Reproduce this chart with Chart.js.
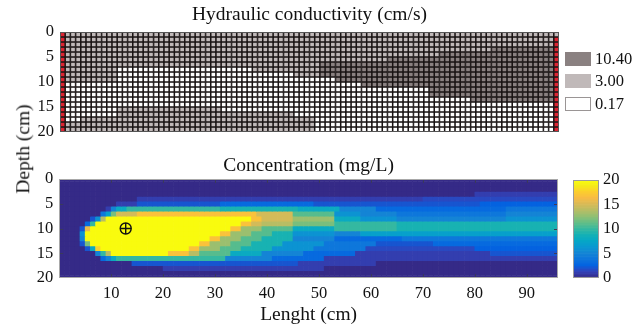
<!DOCTYPE html>
<html><head><meta charset="utf-8">
<script src="https://cdn.jsdelivr.net/npm/chart.js@4.4.1/dist/chart.umd.min.js"></script>
<style>
html,body{margin:0;padding:0;background:#fff;width:641px;height:328px;overflow:hidden}
canvas{position:absolute;display:block}
#ylab{position:absolute;left:23px;top:149px;transform:translate(-50%,-50%) rotate(-90deg);font-family:'Liberation Serif','Times New Roman',serif;font-size:19.5px;color:#111;white-space:nowrap;line-height:1}
</style></head><body>
<canvas id="kChart" style="left:0;top:0;width:641px;height:150px" width="641" height="150"></canvas>
<canvas id="cChart" style="left:0;top:150px;width:641px;height:178px" width="641" height="178"></canvas>
<canvas id="cbChart" style="left:560px;top:150px;width:81px;height:178px" width="81" height="178"></canvas>
<div id="ylab">Depth (cm)</div>
<script>
// ---------------- data ----------------
const lengthMax = 96;           // cm, number of 1 cm columns
const depthMax = 20;            // cm
const xTickValues = [10, 20, 30, 40, 50, 60, 70, 80, 90];
const yTickValues = [0, 5, 10, 15, 20];
const cbTickValues = [0, 5, 10, 15, 20];

// hydraulic conductivity classes (code -> value, cm/s)
const kClassValues = [0.17, 3.00, 10.40];
const kLegendLabels = ['10.40', '3.00', '0.17'];
const kLegendCodes = [2, 1, 0];
// rows of the conductivity grid (depth 0..19), run-length: code*count
const kRows = [
  "1*96",
  "1*96",
  "1*96",
  "1*83 2*13",
  "1*73 2*23",
  "1*63 2*33",
  "1*50 2*46",
  "1*11 0*26 1*13 2*46",
  "1*11 0*34 1*5 2*46",
  "1*11 0*42 2*43",
  "0*58 2*38",
  "0*71 2*25",
  "0*71 2*25",
  "0*79 2*17",
  "0*96",
  "0*11 1*20 0*65",
  "0*11 1*34 0*51",
  "0*4 1*45 0*47",
  "1*49 0*47",
  "1*49 0*47"
];
// boundary (red) cells: [column, firstRow, lastRow]
const boundaryCells = [[0, 0, 19], [95, 1, 19]];

// concentration (mg/L), rows centred on depth 0..20, run-length: value*count
const concRows = [
  "0*96",
  "0*96",
  "0*96",
  "0*80 1*16",
  "0*15 1*55 1.5*26",
  "0*11 1*4 2*16 3*18 2*32 2.5*15",
  "0*9 1 5 8*2 10*18 9*15 8*8 5*7 3*25 4*10",
  "0*8 4 7 12 15*4 17*23 15*7 11*8 6*5 5*7 4*21 5*10",
  "0*6 2 6 14 20*28 17*2 15*6 13*8 8*5 6*7 5*21 6*10",
  "0*5 3 10 20*28 17*2 15*2 14*6 12*8 10*12 9*31",
  "0*4 2 16 20*27 17*2 13*4 11*6 8*8 10*12 9*31",
  "0*4 6 20*26 17*2 13*4 11*4 9*4 6*8 5*5 7*38",
  "0*4 5 20*24 17*2 13*4 11*4 9*6 5*8 3*13 4*30",
  "0*4 2 12 20*21 17*2 13*4 11*4 9*6 6*8 4*10 2*11 3*24",
  "0*5 2 8 18 20*17 17*2 13*4 11*4 9*6 6*8 4*10 1.5*21 2.5*16",
  "0*7 5 10 14 20*11 17*4 14*2 11*6 8*6 5*8 3*10 1*26 2*13",
  "0*8 3 5 8 10*21 5*9 3*10 1*45",
  "0*14 2*32 1*15 0*35",
  "0*20 1*31 0*45",
  "0*96",
  "0*96"
];
const concMin = 0, concMax = 20;
const sourcePoint = [{x: 12.8, y: 10}];

// ---------------- styling helpers ----------------
const SERIF = "'Liberation Serif','Times New Roman',serif";
Chart.defaults.font.family = SERIF;
Chart.defaults.color = '#111';

const kColors = ['#ffffff', '#c0b9b9', '#8a8181'];
const boundaryColor = '#dc2432';
const gridLineColor = '#1a1414';

const parulaAnchors = [
  [53,42,135],[50,67,186],[3,99,225],[13,117,220],[20,133,212],[9,152,209],
  [6,167,198],[21,177,180],[56,185,158],[101,190,134],[146,191,115],[183,189,100],
  [217,186,86],[248,187,68],[252,206,46],[245,235,24],[249,251,14]
];
const parulaPos = [0,4,8,12,16,20,24,28,32,36,40,44,48,52,56,60,63].map(v => v / 63);
function parula(t) {
  t = Math.max(0, Math.min(1, t));
  let i = 0;
  while (i < parulaPos.length - 2 && t > parulaPos[i + 1]) i++;
  const f = (t - parulaPos[i]) / (parulaPos[i + 1] - parulaPos[i]);
  const a = parulaAnchors[i], b = parulaAnchors[i + 1];
  const c = a.map((v, k) => Math.round(v + (b[k] - v) * f));
  return `rgb(${c[0]},${c[1]},${c[2]})`;
}
function expand(row) {
  const out = [];
  row.trim().split(/\s+/).forEach(tok => {
    const [v, n] = tok.split('*');
    const cnt = n === undefined ? 1 : +n;
    for (let i = 0; i < cnt; i++) out.push(+v);
  });
  return out;
}

// ---------------- plugins ----------------
const framePlugin = {
  id: 'frame',
  afterDatasetsDraw(chart, args, opts) {
    const {ctx, chartArea: a, scales} = chart;
    ctx.save();
    if (opts.innerTicks) {
      ctx.strokeStyle = opts.tickColor || '#444';
      ctx.lineWidth = 1;
      ctx.beginPath();
      (opts.xTicks || []).forEach(v => {
        const x = Math.round(scales.x.getPixelForValue(v)) + 0.5;
        ctx.moveTo(x, a.top); ctx.lineTo(x, a.top + 4);
        ctx.moveTo(x, a.bottom); ctx.lineTo(x, a.bottom - 4);
      });
      (opts.yTicks || []).forEach(v => {
        const y = Math.round(scales.y.getPixelForValue(v)) + 0.5;
        ctx.moveTo(a.left, y); ctx.lineTo(a.left + 4, y);
        ctx.moveTo(a.right, y); ctx.lineTo(a.right - 4, y);
      });
      ctx.stroke();
    }
    ctx.strokeStyle = opts.color || '#999';
    ctx.lineWidth = 1;
    ctx.strokeRect(Math.round(a.left) + 0.5, Math.round(a.top) + 0.5, Math.round(a.width) - 1, Math.round(a.height) - 1);
    ctx.restore();
  }
};
const kLegendPlugin = {
  id: 'kLegend',
  afterDraw(chart) {
    const ctx = chart.ctx;
    const a = chart.chartArea;
    ctx.save();
    const x0 = a.right + 6, w = 26, h = 14;
    const tops = [52, 74, 97];
    ctx.font = `16.5px ${SERIF}`;
    ctx.textBaseline = 'middle';
    kLegendLabels.forEach((lab, i) => {
      const code = kLegendCodes[i];
      ctx.fillStyle = kColors[code];
      ctx.fillRect(x0, tops[i], w, h);
      if (code === 0) { ctx.strokeStyle = '#9a9595'; ctx.lineWidth = 1; ctx.strokeRect(x0 + 0.5, tops[i] + 0.5, w - 1, h - 1); }
      ctx.fillStyle = '#111';
      ctx.fillText(lab, x0 + w + 4, tops[i] + h / 2 + 0.5);
    });
    ctx.restore();
  }
};

// ---------------- top chart: conductivity grid ----------------
const boundarySet = new Set();
boundaryCells.forEach(([c, r0, r1]) => { for (let r = r0; r <= r1; r++) boundarySet.add(r + ',' + c); });
const kDatasets = kRows.map((row, r) => {
  const codes = expand(row);
  return {
    type: 'bar',
    data: codes.map((code, c) => ({x: c + 0.5, y: [r, r + 1]})),
    backgroundColor: codes.map((code, c) => boundarySet.has(r + ',' + c) ? boundaryColor : kColors[code]),
    borderColor: gridLineColor,
    borderWidth: 1.1,
    borderSkipped: false,
    inflateAmount: 0.33,
    grouped: false,
    barPercentage: 1,
    categoryPercentage: 1,
    clip: 0
  };
});

function yAxis(width, showTicks) {
  return {
    type: 'linear', min: 0, max: depthMax, reverse: true, offset: false,
    afterBuildTicks: ax => { ax.ticks = yTickValues.map(v => ({value: v})); },
    ticks: {display: showTicks, font: {size: 16.5}, padding: 6, color: '#111'},
    grid: {display: false, drawTicks: false},
    border: {display: false},
    afterFit: ax => { ax.width = width; }
  };
}

new Chart(document.getElementById('kChart'), {
  type: 'bar',
  data: {datasets: kDatasets},
  options: {
    responsive: false, animation: false, events: [],
    layout: {padding: {left: 0, right: 82, top: 0, bottom: 18}},
    plugins: {
      legend: {display: false}, tooltip: {enabled: false},
      title: {display: true, text: 'Hydraulic conductivity (cm/s)', fullSize: false,
        font: {size: 19.5, weight: 'normal', family: SERIF}, color: '#111', padding: {top: 3.5, bottom: 5.1}},
      frame: {color: '#555'}
    },
    scales: {
      x: {type: 'linear', min: 0, max: lengthMax, display: false, offset: false, grid: {offset: false}},
      y: yAxis(60, true)
    }
  },
  plugins: [framePlugin, kLegendPlugin]
});

// ---------------- bottom chart: concentration ----------------
const concDatasets = concRows.map((row, r) => {
  const vals = expand(row);
  return {
    type: 'bar',
    data: vals.map((v, c) => ({x: c + 0.5, y: [r - 0.5, r + 0.5]})),
    backgroundColor: vals.map(v => parula((v - concMin) / (concMax - concMin))),
    borderWidth: 0,
    grouped: false,
    barPercentage: 1,
    categoryPercentage: 1,
    clip: 0
  };
});
const markerDatasets = [
  {type: 'scatter', data: sourcePoint, pointStyle: 'circle', radius: 5.5, borderWidth: 1.4,
   borderColor: '#111', backgroundColor: 'rgba(0,0,0,0)', order: -2},
  {type: 'scatter', data: sourcePoint, pointStyle: 'cross', radius: 5.5, borderWidth: 1.4,
   borderColor: '#111', order: -1}
];

new Chart(document.getElementById('cChart'), {
  type: 'bar',
  data: {datasets: markerDatasets.concat(concDatasets)},
  options: {
    responsive: false, animation: false, events: [],
    layout: {padding: {left: 0, right: 83, top: 0, bottom: 0}},
    plugins: {
      legend: {display: false}, tooltip: {enabled: false},
      title: {display: true, text: 'Concentration (mg/L)', fullSize: false,
        font: {size: 19.5, weight: 'normal', family: SERIF}, color: '#111', padding: {top: 4.6, bottom: 1.0}},
      frame: {color: '#a8a8a8', innerTicks: true, tickColor: '#3a3a5a', xTicks: xTickValues, yTicks: [5, 10, 15]}
    },
    scales: {
      x: {
        type: 'linear', min: 0, max: lengthMax, offset: false,
        afterBuildTicks: ax => { ax.ticks = xTickValues.map(v => ({value: v})); },
        ticks: {font: {size: 16.5}, padding: 6, color: '#111', maxRotation: 0},
        grid: {display: false, drawTicks: false, offset: false},
        border: {display: false},
        title: {display: true, text: 'Lenght (cm)', font: {size: 19.5, family: SERIF}, color: '#111', padding: {top: 0, bottom: 1.5}},
        afterFit: ax => { ax.height = 50; }
      },
      y: yAxis(59.2, true)
    }
  },
  plugins: [framePlugin]
});

// ---------------- colour bar ----------------
const cbSteps = 64;
const cbCenters = [], cbColors = [];
for (let i = 0; i < cbSteps; i++) {
  cbCenters.push(concMin + (i + 0.5) * (concMax - concMin) / cbSteps);
  cbColors.push(parula(i / (cbSteps - 1)));
}
new Chart(document.getElementById('cbChart'), {
  type: 'bar',
  data: {datasets: [{
    data: cbCenters.map(v => ({y: v, x: [0, 1]})),
    backgroundColor: cbColors, borderWidth: 0, barPercentage: 1, categoryPercentage: 1, clip: 0
  }]},
  options: {
    indexAxis: 'y',
    responsive: false, animation: false, events: [],
    layout: {padding: {left: 13, right: 0, top: 30, bottom: 50}},
    plugins: {legend: {display: false}, tooltip: {enabled: false}, frame: {color: '#9a9a9a'}},
    scales: {
      x: {type: 'linear', min: 0, max: 1, display: false, offset: false},
      y: {
        type: 'linear', min: concMin, max: concMax, position: 'right', offset: false,
        afterBuildTicks: ax => { ax.ticks = cbTickValues.map(v => ({value: v})); },
        ticks: {font: {size: 16.5}, padding: 4, color: '#111'},
        grid: {display: false, drawTicks: false, offset: false},
        border: {display: false},
        afterFit: ax => { ax.width = 42; }
      }
    }
  },
  plugins: [framePlugin]
});
</script>
</body></html>
